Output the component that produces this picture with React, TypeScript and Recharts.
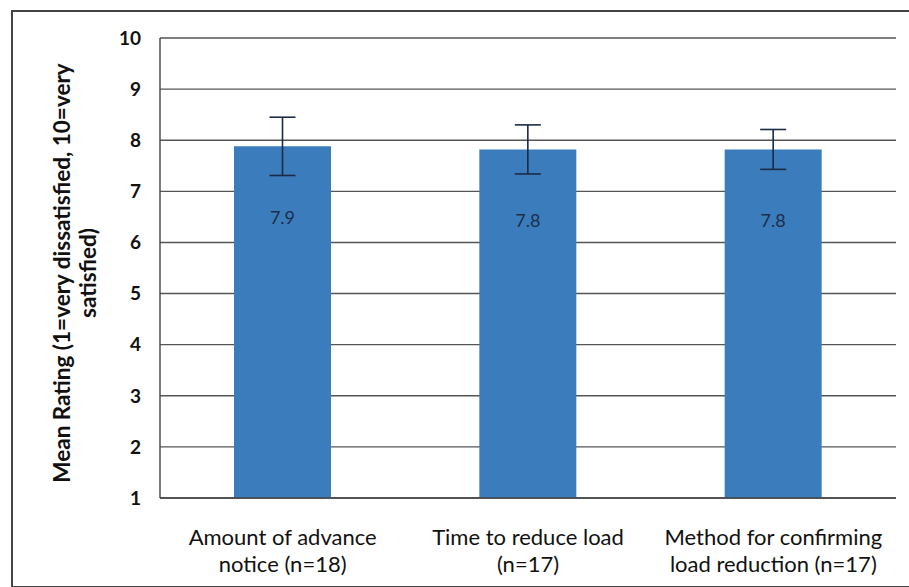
import React from "react";
import { BarChart, Bar, XAxis, YAxis, CartesianGrid, ErrorBar, LabelList } from "recharts";

const categories = [
  ["Amount of advance", "notice (n=18)"],
  ["Time to reduce load", "(n=17)"],
  ["Method for confirming", "load reduction (n=17)"],
];
const means = [7.88, 7.82, 7.82];
const errors = [0.57, 0.48, 0.39];
const labels = ["7.9", "7.8", "7.8"];
const yTicks = [1, 2, 3, 4, 5, 6, 7, 8, 9, 10];

const data = categories.map((c, i) => ({
  name: c.join(" "),
  mean: means[i],
  err: errors[i],
  label: labels[i],
}));

const FONT = "Lato, 'Open Sans', sans-serif";

const XTick = (props: any) => {
  const { x, y, payload, index } = props;
  const lines = categories[index] || [payload.value];
  return (
    <g>
      {lines.map((l: string, i: number) => (
        <text
          key={i}
          x={x}
          y={y + 39 + i * 27}
          textAnchor="middle"
          fontFamily={FONT}
          fontSize={22}
          fill="#111"
        >
          {l}
        </text>
      ))}
    </g>
  );
};

const YLabel = () => {
  const cy = 273;
  return (
    <g>
      <text
        transform={`translate(70, ${cy}) rotate(-90)`}
        textAnchor="middle"
        fontFamily={FONT}
        fontWeight="bold"
        fontSize={22.5}
        fill="#111"
      >
        Mean Rating (1=very dissatisfied, 10=very
      </text>
      <text
        transform={`translate(96, ${cy}) rotate(-90)`}
        textAnchor="middle"
        fontFamily={FONT}
        fontWeight="bold"
        fontSize={22.5}
        fill="#111"
      >
        satisfied)
      </text>
    </g>
  );
};

const ValueLabel = (props: any) => {
  const { x, y, width, value } = props;
  return (
    <text
      x={x + width / 2}
      y={y + 78}
      textAnchor="middle"
      fontFamily={FONT}
      fontSize={18}
      fill="#1c2e4a"
    >
      {value}
    </text>
  );
};

export default function App() {
  return (
    <div style={{ position: "absolute", left: 0, top: 0, width: 909, height: 587, background: "#fff", overflow: "hidden" }}>
      <div
        style={{
          position: "absolute",
          left: 11,
          top: 10,
          width: 920,
          height: 574,
          borderLeft: "2px solid #444",
          borderTop: "2px solid #444",
          borderBottom: "2px solid #444",
        }}
      />
      <div style={{ position: "absolute", left: 0, top: 0 }}>
        <BarChart
          width={909}
          height={587}
          data={data}
          margin={{ top: 38, right: 13, bottom: 0, left: 100 }}
          barSize={97}
        >
          <CartesianGrid vertical={false} stroke="#555" strokeWidth={1.4} />
          <XAxis
            dataKey="name"
            tick={<XTick />}
            tickLine={false}
            axisLine={{ stroke: "#444", strokeWidth: 1.4 }}
            interval={0}
            height={89}
          />
          <YAxis
            domain={[1, 10]}
            ticks={yTicks}
            width={60}
            tickLine={false}
            tickSize={0}
            tickMargin={19}
            interval={0}
            axisLine={{ stroke: "#444", strokeWidth: 1.4 }}
            tick={{ fontFamily: FONT, fontSize: 19, fontWeight: "bold", fill: "#111" }}
            label={<YLabel />}
          />
          <Bar dataKey="mean" fill="#3B7CBC" isAnimationActive={false}>
            <ErrorBar dataKey="err" width={13} stroke="#1c2b45" strokeWidth={1.6} direction="y" />
            <LabelList dataKey="label" content={<ValueLabel />} />
          </Bar>
        </BarChart>
      </div>
    </div>
  );
}
